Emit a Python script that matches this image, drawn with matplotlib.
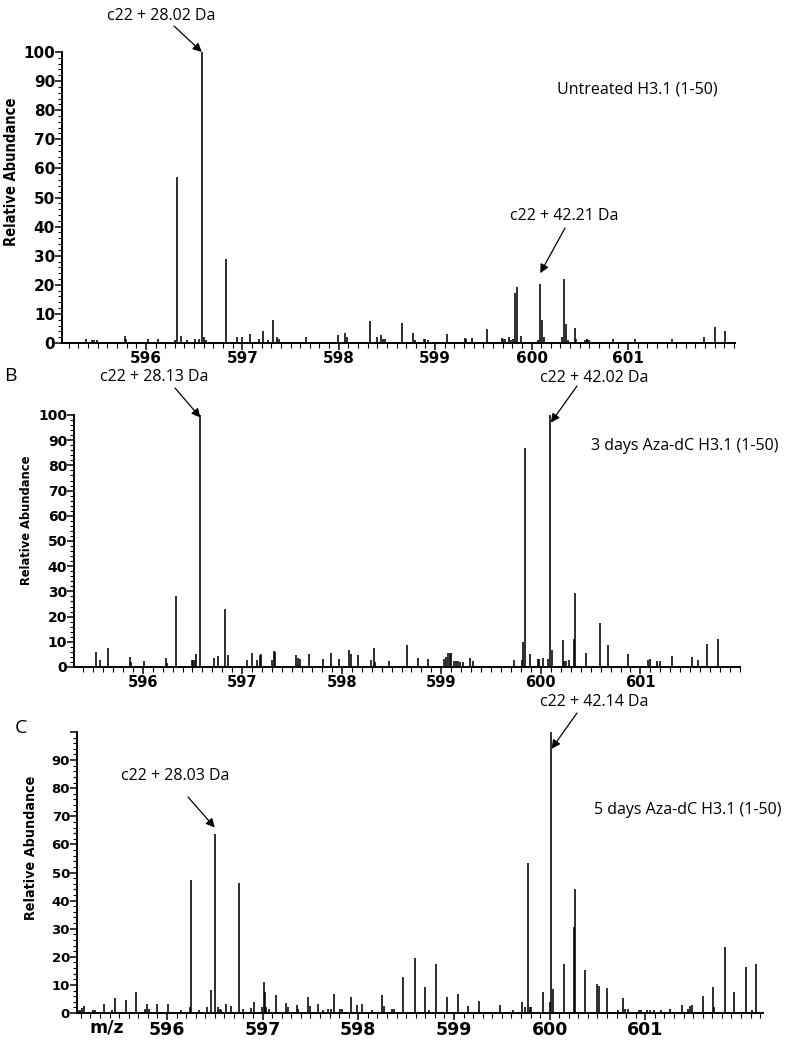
import matplotlib
matplotlib.use("Agg")
import matplotlib.pyplot as plt
import numpy as np
from matplotlib.ticker import MultipleLocator

# ── Peak lists (m/z, relative abundance %) ──
mz_a = [595.38, 595.44, 595.46, 595.49, 595.78, 595.79, 596.02, 596.13, 596.30, 596.32,
        596.36, 596.43, 596.51, 596.55, 596.58, 596.60, 596.62, 596.83, 596.94, 597.00,
        597.08, 597.17, 597.21, 597.27, 597.32, 597.36, 597.38, 597.66, 597.76, 597.99,
        598.07, 598.09, 598.32, 598.40, 598.44, 598.46, 598.48, 598.66, 598.77, 598.79,
        598.88, 598.90, 598.93, 599.12, 599.31, 599.32, 599.38, 599.54, 599.69, 599.70,
        599.72, 599.77, 599.79, 599.81, 599.83, 599.85, 599.89, 600.07, 600.09, 600.11,
        600.13, 600.32, 600.34, 600.36, 600.38, 600.45, 600.46, 600.55, 600.57, 600.58,
        600.60, 600.84, 601.07, 601.46, 601.79, 601.90, 602.01]
int_a = [1.5, 1.2, 1.2, 1.0, 2.3, 1.5, 1.5, 1.5, 1.2, 57,
         2.5, 1.0, 1.5, 1.5, 100, 2.0, 1.2, 29, 2.0, 2.0,
         3.2, 1.5, 4.0, 1.0, 7.8, 2.0, 1.5, 2.0, 0.5, 2.6,
         3.5, 2.0, 7.4, 2.0, 2.9, 1.5, 1.5, 6.9, 3.5, 1.0,
         1.5, 1.5, 1.0, 3.0, 1.8, 1.5, 1.6, 4.9, 1.7, 1.5,
         1.5, 2.0, 1.0, 1.5, 17.3, 19.2, 2.3, 1.0, 20.4, 7.8,
         2.0, 2.0, 22.1, 6.6, 1.0, 5.3, 1.5, 1.0, 1.5, 1.5,
         1.0, 1.5, 1.5, 1.5, 2.2, 5.5, 4.1]

mz_b = [595.53, 595.57, 595.65, 595.87, 595.88, 596.01, 596.23, 596.24, 596.33, 596.50,
        596.51, 596.53, 596.54, 596.58, 596.72, 596.76, 596.83, 596.86, 597.05, 597.10,
        597.15, 597.18, 597.19, 597.30, 597.32, 597.33, 597.54, 597.56, 597.58, 597.67,
        597.81, 597.89, 597.97, 598.07, 598.09, 598.16, 598.29, 598.32, 598.33, 598.47,
        598.66, 598.77, 598.87, 599.03, 599.05, 599.07, 599.09, 599.10, 599.13, 599.15,
        599.17, 599.19, 599.22, 599.29, 599.32, 599.73, 599.81, 599.82, 599.84, 599.89,
        599.97, 599.98, 600.02, 600.07, 600.09, 600.11, 600.22, 600.23, 600.25, 600.28,
        600.33, 600.34, 600.45, 600.59, 600.67, 600.87, 601.08, 601.10, 601.17, 601.20,
        601.32, 601.52, 601.58, 601.67, 601.78]
int_b = [6.0, 2.6, 7.7, 4.0, 2.0, 2.4, 3.7, 1.5, 28, 2.6,
         2.6, 2.6, 5.3, 100, 3.6, 4.2, 23, 4.6, 2.6, 5.7,
         2.9, 4.6, 5.0, 2.9, 6.3, 6.0, 4.8, 3.5, 3.0, 5.0,
         3.3, 5.7, 3.3, 6.6, 5.0, 4.6, 2.6, 7.7, 2.0, 2.2,
         8.6, 3.6, 3.0, 3.3, 4.0, 5.7, 5.7, 5.5, 2.5, 2.5,
         2.5, 2.0, 2.0, 3.7, 2.2, 2.6, 2.6, 10.0, 87, 5.0,
         3.3, 3.3, 3.7, 3.3, 100, 6.6, 10.7, 2.5, 2.4, 2.9,
         11, 29.5, 5.6, 17.6, 8.6, 5.0, 2.6, 3.3, 2.2, 2.2,
         4.2, 4.0, 2.6, 9.0, 11.3]

mz_c = [595.07, 595.09, 595.11, 595.13, 595.23, 595.25, 595.34, 595.43, 595.46, 595.57,
        595.68, 595.77, 595.79, 595.81, 595.90, 596.01, 596.15, 596.24, 596.25, 596.34,
        596.42, 596.46, 596.50, 596.53, 596.55, 596.57, 596.62, 596.67, 596.75, 596.80,
        596.88, 596.91, 596.99, 597.01, 597.03, 597.04, 597.07, 597.14, 597.24, 597.27,
        597.36, 597.37, 597.47, 597.50, 597.58, 597.63, 597.68, 597.71, 597.75, 597.81,
        597.83, 597.92, 597.99, 598.04, 598.14, 598.25, 598.27, 598.35, 598.37, 598.47,
        598.59, 598.70, 598.74, 598.81, 598.93, 599.04, 599.15, 599.26, 599.48, 599.62,
        599.71, 599.74, 599.77, 599.79, 599.81, 599.93, 600.00, 600.01, 600.04, 600.15,
        600.255, 600.26, 600.37, 600.49, 600.52, 600.60, 600.71, 600.77, 600.79, 600.82,
        600.93, 600.96, 601.02, 601.05, 601.09, 601.16, 601.26, 601.38, 601.45, 601.47,
        601.49, 601.60, 601.71, 601.72, 601.83, 601.93, 602.05, 602.12, 602.16]
int_c = [1.0, 1.0, 1.7, 2.4, 1.2, 1.2, 3.2, 1.0, 5.2, 4.7,
         7.6, 1.5, 3.2, 1.5, 3.2, 3.1, 1.1, 2.0, 47.3, 1.0,
         2.3, 8.3, 63.7, 2.0, 1.5, 1.0, 3.2, 2.6, 46.4, 1.5,
         1.7, 4.0, 2.0, 11.1, 7.6, 2.0, 1.5, 6.4, 3.6, 2.0,
         2.8, 1.5, 5.6, 2.5, 3.2, 1.0, 1.5, 1.5, 6.8, 1.5,
         1.5, 5.8, 2.8, 3.2, 1.2, 6.4, 2.5, 1.5, 1.5, 12.7,
         19.6, 9.3, 1.0, 17.6, 5.7, 6.8, 2.6, 4.2, 2.7, 1.0,
         3.8, 2.0, 53.3, 2.0, 2.0, 7.5, 3.8, 100, 8.5, 17.4,
         30.7, 44, 15.4, 10.4, 9.5, 8.9, 1.0, 5.3, 1.5, 1.5,
         1.2, 1.0, 1.2, 1.2, 1.2, 1.2, 1.5, 3.0, 1.5, 2.5,
         2.8, 5.9, 9.3, 2.0, 23.4, 7.4, 16.3, 1.0, 17.6]

mz_ticks = [596, 597, 598, 599, 600, 601]

W, H = 798, 1050
fig = plt.figure(figsize=(W / 100, H / 100), dpi=100)


def fx(x, y):
    """reference pixel -> figure fraction"""
    return (x / W, 1 - y / H)


def spectrum(rect, mz, inten, xlim, ytick_top, tick_fs_x, tick_fs_y):
    ax = fig.add_axes(rect)
    ax.vlines(mz, 0, inten, color="black", lw=1.15)
    ax.set_xlim(*xlim)
    ax.set_ylim(0, 100)
    for s in ("top", "right"):
        ax.spines[s].set_visible(False)
    for s in ("left", "bottom"):
        ax.spines[s].set_linewidth(1.4)
    ax.set_xticks(mz_ticks)
    ax.xaxis.set_minor_locator(MultipleLocator(0.1))
    yt = list(range(0, 101, 10))
    ax.set_yticks(yt)
    ax.set_yticklabels([str(v) if v <= ytick_top else "" for v in yt])
    ax.yaxis.set_minor_locator(MultipleLocator(2))
    ax.tick_params(axis="x", which="major", length=5, width=1.1, pad=1, labelsize=tick_fs_x)
    ax.tick_params(axis="x", which="minor", length=3.5, width=0.8)
    ax.tick_params(axis="y", which="major", length=5, width=1.1, pad=0, labelsize=tick_fs_y)
    ax.tick_params(axis="y", which="minor", length=3, width=0.8)
    for lab in ax.get_xticklabels() + ax.get_yticklabels():
        lab.set_fontweight("heavy")
    return ax


def arrow(ax, tip, tail_px):
    ax.annotate("", xy=tip, xycoords="data", xytext=fx(*tail_px),
                textcoords="figure fraction",
                arrowprops=dict(arrowstyle="-|>", color="black", lw=0.9,
                                mutation_scale=13, shrinkA=0, shrinkB=0))


lab_font = dict(family=["Open Sans", "DejaVu Sans"], fontsize=11.5)
ylab_font = dict(family=["DejaVu Sans"], fontstretch="condensed", fontweight="bold",
                 rotation=90, ha="center", va="center")

# ── Panel A ──
ax_a = spectrum([62 / W, 1 - 343 / H, (735 - 62) / W, (343 - 52) / H],
                mz_a, int_a, (595.13, 602.11), 100, 11, 11)
fig.text(*fx(161, 16), "c22 + 28.02 Da", ha="center", va="center", **lab_font)
arrow(ax_a, (596.58, 100), (174, 26))
fig.text(*fx(564, 216), "c22 + 42.21 Da", ha="center", va="center", **lab_font)
arrow(ax_a, (600.09, 24), (565, 228))
fig.text(*fx(637, 90), "Untreated H3.1 (1-50)", ha="center", va="center", **lab_font)
fig.text(*fx(12, 172), "Relative Abundance", fontsize=10.5, **ylab_font)

# ── Panel B ──
ax_b = spectrum([74 / W, 1 - 667 / H, (740 - 74) / W, (667 - 415) / H],
                mz_b, int_b, (595.31, 602.0), 100, 10.5, 10)
fig.text(*fx(10, 376), "B", ha="center", va="center", family=["Open Sans", "DejaVu Sans"], fontsize=14)
fig.text(*fx(154, 377), "c22 + 28.13 Da", ha="center", va="center", **lab_font)
arrow(ax_b, (596.58, 99), (175, 388))
fig.text(*fx(594, 378), "c22 + 42.02 Da", ha="center", va="center", **lab_font)
arrow(ax_b, (600.10, 97), (577, 386))
fig.text(*fx(685, 446), "3 days Aza-dC H3.1 (1-50)", ha="center", va="center", **lab_font)
fig.text(*fx(27, 520), "Relative Abundance", fontsize=9.2, **ylab_font)

# ── Panel C ──
ax_c = spectrum([77 / W, 1 - 1013 / H, (763 - 77) / W, (1013 - 732) / H],
                mz_c, int_c, (595.06, 602.23), 90, 12.5, 9.5)
fig.text(*fx(21, 728), "C", ha="center", va="center", family=["Open Sans", "DejaVu Sans"], fontsize=14)
fig.text(*fx(175, 776), "c22 + 28.03 Da", ha="center", va="center", **lab_font)
arrow(ax_c, (596.50, 66), (188, 797))
fig.text(*fx(594, 702), "c22 + 42.14 Da", ha="center", va="center", **lab_font)
arrow(ax_c, (600.02, 94), (577, 713))
fig.text(*fx(688, 810), "5 days Aza-dC H3.1 (1-50)", ha="center", va="center", **lab_font)
fig.text(*fx(31, 848), "Relative Abundance", fontsize=10.3, **ylab_font)
fig.text(*fx(107, 1028), "m/z", ha="center", va="center", fontsize=12.5, fontweight="heavy")

fig.savefig("out.png", dpi=100)
